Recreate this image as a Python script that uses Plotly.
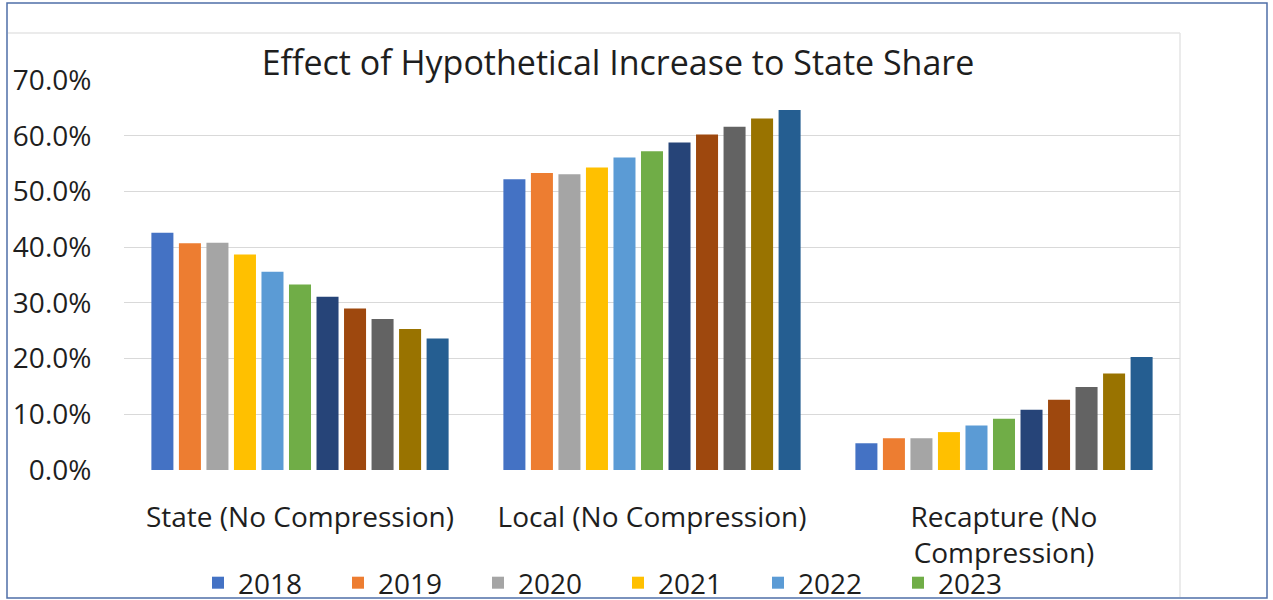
import plotly.graph_objects as go

# categories and series (values in percent)
categories = ["State (No Compression)", "Local (No Compression)", "Recapture (No<br>Compression)"]
years = ["2018", "2019", "2020", "2021", "2022", "2023", "2024", "2025", "2026", "2027", "2028"]

state_vals = [42.6, 40.7, 40.8, 38.7, 35.6, 33.3, 31.1, 29.0, 27.1, 25.3, 23.6]
local_vals = [52.2, 53.3, 53.1, 54.3, 56.1, 57.2, 58.8, 60.2, 61.6, 63.1, 64.6]
recapture_vals = [4.8, 5.7, 5.7, 6.8, 8.0, 9.2, 10.8, 12.6, 14.9, 17.3, 20.3]

colors = ["#4472C4", "#ED7D31", "#A5A5A5", "#FFC000", "#5B9BD5", "#70AD47",
          "#264478", "#9E480E", "#636363", "#997300", "#255E91"]

FONT = "Open Sans"

fig = go.Figure()
for i, yr in enumerate(years):
    fig.add_trace(go.Bar(
        x=categories,
        y=[state_vals[i], local_vals[i], recapture_vals[i]],
        name=yr,
        marker=dict(color=colors[i], line=dict(width=0)),
        # the legend in the picture is cut off after 2023
        showlegend=i < 6,
    ))

# plot area in pixels: x 124..1180, y 80..470
L, R, T, B = 124, 1180, 80, 470
W, H = 1273, 600


def px(x):
    return (x - L) / (R - L)


def py(y):
    return (B - y) / (B - T)


fig.update_layout(
    width=W, height=H,
    margin=dict(l=L, r=W - R, t=T, b=H - B, autoexpand=False),
    paper_bgcolor="white",
    plot_bgcolor="white",
    font=dict(family=FONT, color="#1E1E1E", size=28),
    barmode="group",
    bargap=0.14,
    bargroupgap=0.2,
    title=dict(
        text="Effect of Hypothetical Increase to State Share",
        x=618 / W, xanchor="center",
        y=1 - 63 / H, yanchor="middle",
        font=dict(family=FONT, size=34, color="#1E1E1E"),
    ),
    xaxis=dict(
        showgrid=False, showline=False, zeroline=False,
        ticks="outside", ticklen=22, tickcolor="rgba(0,0,0,0)",
        tickfont=dict(size=28),
    ),
    yaxis=dict(
        range=[0, 70], dtick=10,
        tickformat=".1f", ticksuffix="%",
        showgrid=True, gridcolor="#D9D9D9", gridwidth=1,
        zeroline=False, showline=False,
        ticks="outside", ticklen=26, tickcolor="rgba(0,0,0,0)",
        tickfont=dict(size=28),
    ),
    legend=dict(
        orientation="h",
        x=px(198), xanchor="left",
        y=py(583), yanchor="middle",
        entrywidth=95, entrywidthmode="pixels",
        font=dict(size=28),
        bgcolor="rgba(0,0,0,0)",
        traceorder="normal",
    ),
    shapes=[
        # outer border of the screenshot
        dict(type="rect", xref="paper", yref="paper",
             x0=px(7), x1=px(1267), y0=py(598), y1=py(3),
             line=dict(color="#4F6FA8", width=1.5), fillcolor="rgba(0,0,0,0)", layer="below"),
        # chart area edge (top and right)
        dict(type="line", xref="paper", yref="paper",
             x0=px(8), x1=px(1180), y0=py(33), y1=py(33),
             line=dict(color="#E4E4E4", width=1.5), layer="below"),
        dict(type="line", xref="paper", yref="paper",
             x0=px(1180), x1=px(1180), y0=py(33), y1=py(597),
             line=dict(color="#E4E4E4", width=1.5), layer="below"),
    ],
)

# the page body has a default margin; drop it so the figure sits at the top-left corner
fig.write_html(
    "out.html",
    config={"displayModeBar": False},
    post_script="document.body.style.margin='0';",
)
